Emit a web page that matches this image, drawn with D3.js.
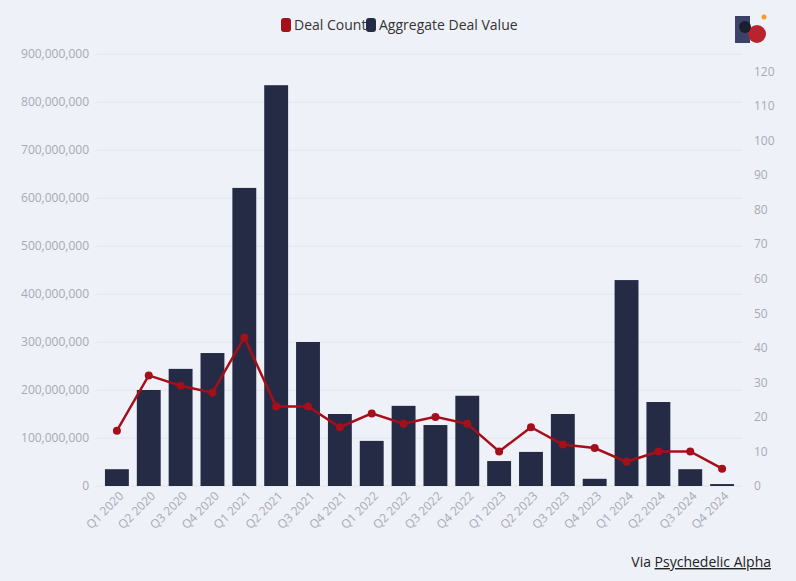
<!DOCTYPE html>
<html><head><meta charset="utf-8">
<script src="https://cdn.jsdelivr.net/npm/d3@7"></script>
<style>body{margin:0;background:#eff1f8;font-family:"Source Sans Pro","Open Sans",sans-serif}</style>
</head><body><svg id="c" width="796" height="581"></svg>
<script>
const quarters = ['Q1 2020','Q2 2020','Q3 2020','Q4 2020','Q1 2021','Q2 2021','Q3 2021','Q4 2021','Q1 2022','Q2 2022','Q3 2022','Q4 2022','Q1 2023','Q2 2023','Q3 2023','Q4 2023','Q1 2024','Q2 2024','Q3 2024','Q4 2024'];
const dealValue = [35e6,200e6,244e6,277e6,621e6,835e6,300e6,150e6,94e6,167e6,127e6,188e6,52e6,71e6,150e6,15e6,429e6,175e6,35e6,4e6];
const dealCount = [16,32,29,27,43,23,23,17,21,18,20,18,10,17,12,11,7,10,10,5];
const colors = { bar: '#252b45', line: '#a50f1a' };

const svg = d3.select('#c');
const margin = { top: 54, right: 54, bottom: 95, left: 97 };
const width = 796, height = 581;
const innerW = width - margin.left - margin.right;
const innerH = height - margin.top - margin.bottom;
const g = svg.append('g').attr('transform', `translate(${margin.left},${margin.top})`);

const x = d3.scaleBand().domain(quarters).range([0, innerW]).padding(0.25);
const yL = d3.scaleLinear().domain([0, 900e6]).range([innerH, 0]);
const yR = d3.scaleLinear().domain([0, 125]).range([innerH, 0]);

// gridlines
g.append('g').selectAll('line').data(yL.ticks(9)).enter().append('line')
  .attr('x1', 0).attr('x2', innerW).attr('y1', d => yL(d)).attr('y2', d => yL(d))
  .attr('stroke', '#e2e4ec');

const axL = g.append('g').call(d3.axisLeft(yL).ticks(9).tickFormat(d3.format(',')).tickSize(0).tickPadding(8));
const axR = g.append('g').attr('transform', `translate(${innerW},0)`).call(d3.axisRight(yR).tickValues(d3.range(0, 121, 10)).tickSize(0).tickPadding(12));
const axB = g.append('g').attr('transform', `translate(0,${innerH})`).call(d3.axisBottom(x).tickSize(0).tickPadding(8));
axB.selectAll('text').attr('transform', 'rotate(-45)').style('text-anchor', 'end').attr('dx', '-0.2em').attr('dy', '0.4em');
[axL, axR, axB].forEach(a => {
  a.select('.domain').remove();
  a.selectAll('text').attr('fill', '#a8aab3').attr('font-size', 12).attr('font-family', '"Source Sans Pro","Open Sans",sans-serif');
});

g.append('g').selectAll('rect').data(dealValue).enter().append('rect')
  .attr('x', (d, i) => x(quarters[i])).attr('width', x.bandwidth())
  .attr('y', d => yL(d)).attr('height', d => innerH - yL(d)).attr('fill', colors.bar);

const line = d3.line().x((d, i) => x(quarters[i]) + x.bandwidth() / 2).y(d => yR(d));
g.append('path').datum(dealCount).attr('d', line).attr('fill', 'none').attr('stroke', colors.line).attr('stroke-width', 2.5);
g.append('g').selectAll('circle').data(dealCount).enter().append('circle')
  .attr('cx', (d, i) => x(quarters[i]) + x.bandwidth() / 2).attr('cy', d => yR(d)).attr('r', 4).attr('fill', colors.line);

// legend
const legend = svg.append('g').attr('font-size', 14).attr('fill', '#333');
[{ label: 'Deal Count', color: colors.line, x: 281 }, { label: 'Aggregate Deal Value', color: colors.bar, x: 366 }].forEach(it => {
  legend.append('rect').attr('x', it.x).attr('y', 18).attr('width', 10).attr('height', 14).attr('rx', 3).attr('fill', it.color);
  legend.append('text').attr('x', it.x + 13).attr('y', 30).text(it.label);
});

// logo
const logo = svg.append('g');
logo.append('rect').attr('x', 735).attr('y', 16).attr('width', 15).attr('height', 27).attr('fill', '#3b4168');
logo.append('circle').attr('cx', 757).attr('cy', 34).attr('r', 9).attr('fill', '#b8242d');
logo.append('circle').attr('cx', 745).attr('cy', 27).attr('r', 6).attr('fill', '#1b1e2c');
logo.append('circle').attr('cx', 764).attr('cy', 17).attr('r', 2.5).attr('fill', '#f29b2a');

const cred = svg.append('text').attr('x', 771).attr('y', 567).attr('text-anchor', 'end').attr('font-size', 14).attr('fill', '#222');
cred.append('tspan').text('Via ');
cred.append('tspan').attr('text-decoration', 'underline').text('Psychedelic Alpha');
</script></body></html>
